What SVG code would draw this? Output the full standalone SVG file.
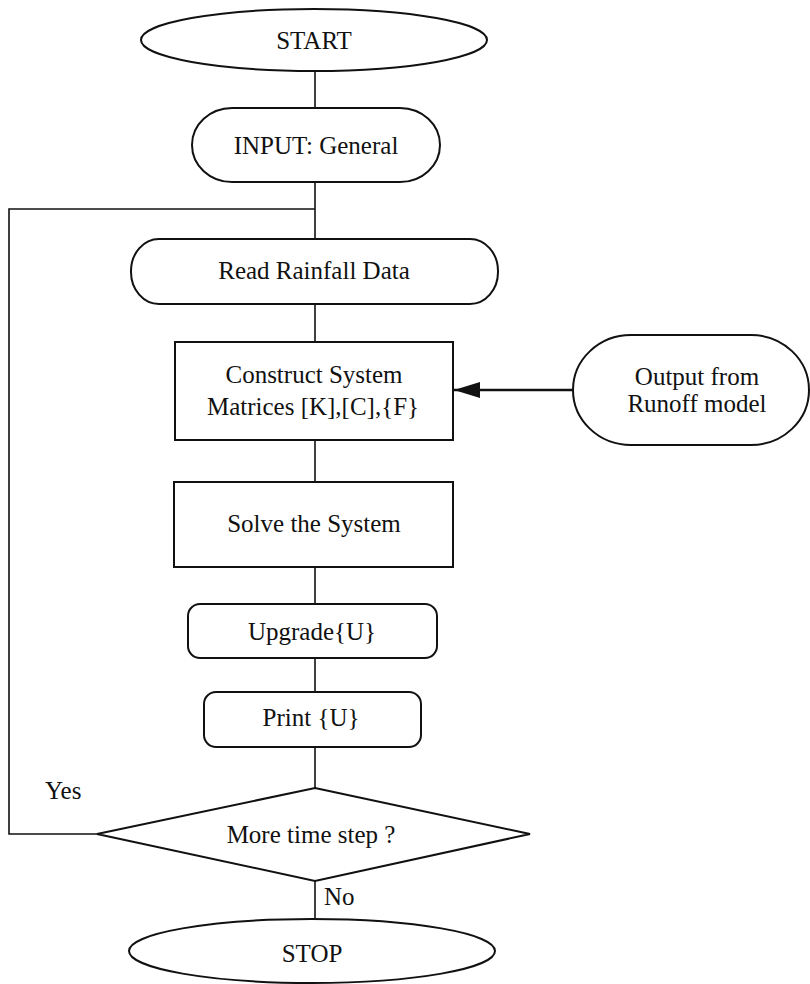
<svg xmlns="http://www.w3.org/2000/svg" width="810" height="984" viewBox="0 0 810 984">
  <style>
    .shape { fill: #ffffff; stroke: #111111; stroke-width: 2; }
    .link { fill: none; stroke: #111111; stroke-width: 1.6; }
    .label { font-family: "Liberation Serif", "Times New Roman", serif; font-size: 25px; fill: #111111; text-anchor: middle; }
    .tag { font-family: "Liberation Serif", "Times New Roman", serif; font-size: 25px; fill: #111111; }
  </style>
  <defs>
    <marker id="arrowhead" viewBox="0 0 26 16" refX="26" refY="8" markerWidth="26" markerHeight="16" markerUnits="userSpaceOnUse" orient="auto">
      <path d="M0,0 L26,8 L0,16 Z" fill="#111111"/>
    </marker>
  </defs>
  <rect width="810" height="984" fill="#ffffff"/>

  <!-- connectors -->
  <g id="connectors">
    <line class="link" x1="315" y1="71" x2="315" y2="108"/>
    <line class="link" x1="315" y1="182" x2="315" y2="239"/>
    <line class="link" x1="315" y1="304" x2="315" y2="342"/>
    <line class="link" x1="315" y1="440" x2="315" y2="482"/>
    <line class="link" x1="315" y1="567" x2="315" y2="604"/>
    <line class="link" x1="315" y1="658" x2="315" y2="692"/>
    <line class="link" x1="315" y1="747" x2="315" y2="788"/>
    <line class="link" x1="315" y1="881" x2="315" y2="918"/>
    <!-- loop back for "Yes" -->
    <polyline class="link" points="97,834 9,834 9,209 315,209"/>
    <!-- runoff input -->
    <line x1="573" y1="390" x2="454" y2="390" stroke="#111111" stroke-width="2.6" marker-end="url(#arrowhead)"/>
    <text class="tag" x="45" y="799">Yes</text>
    <text class="tag" x="324" y="905">No</text>
  </g>

  <g id="start">
    <ellipse class="shape" cx="314" cy="40" rx="173" ry="31"/>
    <text class="label" x="314" y="49">START</text>
  </g>

  <g id="input-general">
    <rect class="shape" x="192" y="108" width="248" height="74" rx="40" ry="37"/>
    <text class="label" x="316" y="154">INPUT: General</text>
  </g>

  <g id="read-rainfall">
    <rect class="shape" x="131" y="239" width="367" height="65" rx="28" ry="32"/>
    <text class="label" x="314" y="279">Read Rainfall Data</text>
  </g>

  <g id="construct-matrices">
    <rect class="shape" x="175" y="342" width="278" height="98"/>
    <text class="label" x="314" y="383">Construct System</text>
    <text class="label" x="313" y="415">Matrices [K],[C],{F}</text>
  </g>

  <g id="runoff-output">
    <rect class="shape" x="573" y="335" width="236" height="110" rx="58" ry="55"/>
    <text class="label" x="697" y="385">Output from</text>
    <text class="label" x="697" y="412">Runoff model</text>
  </g>

  <g id="solve-system">
    <rect class="shape" x="174" y="482" width="279" height="85"/>
    <text class="label" x="314" y="532">Solve the System</text>
  </g>

  <g id="upgrade-u">
    <rect class="shape" x="188" y="604" width="249" height="54" rx="12" ry="12"/>
    <text class="label" x="312" y="640">Upgrade{U}</text>
  </g>

  <g id="print-u">
    <rect class="shape" x="204" y="692" width="217" height="55" rx="12" ry="12"/>
    <text class="label" x="311" y="726">Print {U}</text>
  </g>

  <g id="more-steps">
    <polygon class="shape" points="315,788 530,834 315,881 97,834" stroke-width="2.4"/>
    <text class="label" x="311" y="843">More time step ?</text>
  </g>

  <g id="stop">
    <ellipse class="shape" cx="312" cy="951" rx="183" ry="32"/>
    <text class="label" x="312" y="962">STOP</text>
  </g>
</svg>
